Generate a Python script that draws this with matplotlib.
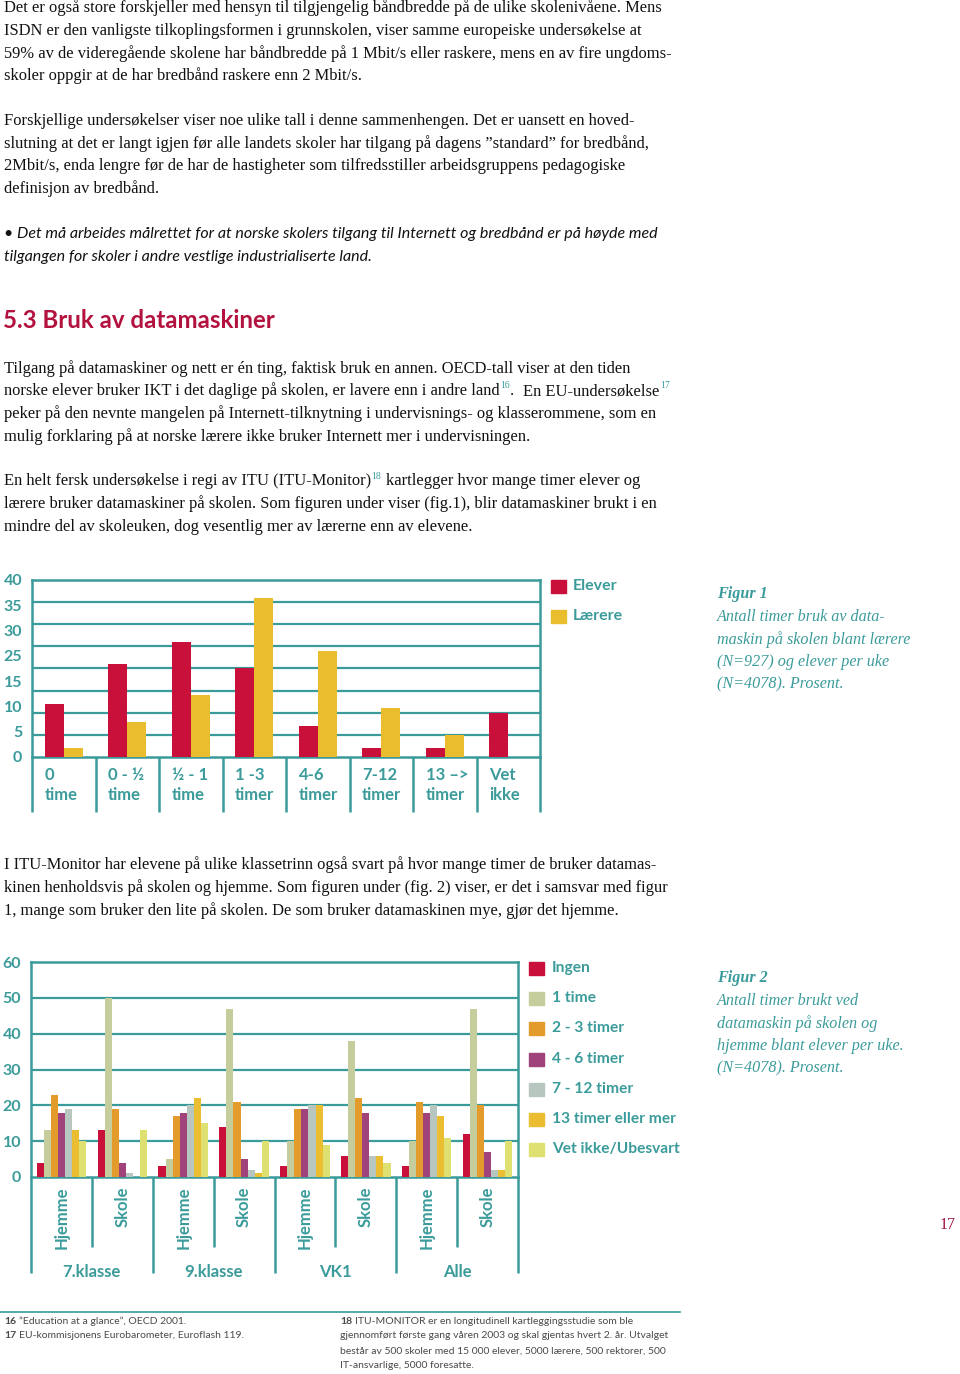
import matplotlib.pyplot as plt
from matplotlib.patches import Rectangle
from matplotlib.lines import Line2D
import numpy as np

# --- data, figur 1 ---
cats1 = [("0", "time"), ("0 - ½", "time"), ("½ - 1", "time"), ("1 -3", "timer"),
         ("4-6", "timer"), ("7-12", "timer"), ("13 –>", "timer"), ("Vet", "ikke")]
elever = [12, 21, 26, 20, 7, 2, 2, 10]
laerere = [2, 8, 14, 36, 24, 11, 5, 0]
ylab1 = ["0", "5", "10", "15", "25", "30", "35", "40"]

# --- data, figur 2 ---
groups2 = ["7.klasse", "9.klasse", "VK1", "Alle"]
places2 = ["Hjemme", "Skole"]
series2_names = ["Ingen", "1 time", "2 - 3 timer", "4 - 6 timer", "7 - 12 timer",
                 "13 timer eller mer", "Vet ikke/Ubesvart"]
ingen = [4, 13, 3, 14, 3, 6, 3, 12]
en_time = [13, 50, 5, 47, 10, 38, 10, 47]
t2_3 = [23, 19, 17, 21, 19, 22, 21, 20]
t4_6 = [18, 4, 18, 5, 19, 18, 18, 7]
t7_12 = [19, 1, 20, 2, 20, 6, 20, 2]
t13 = [13, 0, 22, 1, 20, 6, 17, 2]
vet_ikke = [10, 13, 15, 10, 9, 4, 11, 10]

W, H = 960, 1374
TEAL = "#3b9b9b"
RED = "#c8103a"
YEL = "#e9bd2e"
HEAD = "#b3123f"
colors2 = [RED, "#c5cd9c", "#e39b2b", "#a0437b", "#b7c6bf", "#ebbd30", "#dfe072"]

SERIF = "Liberation Serif"
SANS = "Lato"
BODY_FS = 11.9

fig = plt.figure(figsize=(9.6, 13.74), dpi=100)
renderer = fig.canvas.get_renderer()


def put(x, y, s, **kw):
    kw.setdefault("va", "center")
    kw.setdefault("ha", "left")
    return fig.text(x / W, 1 - y / H, s, **kw)


def body(x, y, s, **kw):
    kw.setdefault("family", SERIF)
    kw.setdefault("fontsize", BODY_FS)
    kw.setdefault("color", "#111111")
    return put(x, y, s, **kw)


def body_sup(x, y, parts):
    # parts: list of (text, is_superscript)
    cur = x
    for s, sup in parts:
        n_sp = len(s) - len(s.lstrip(" "))
        s = s.lstrip(" ")
        cur += 4 * n_sp
        if sup:
            t = put(cur, y - 5, s, family=SERIF, fontsize=7, color=TEAL)
        else:
            t = body(cur, y, s)
        cur = t.get_window_extent(renderer).x1 + 0.5


def axes_px(x0, y0, x1, y1):
    return fig.add_axes([x0 / W, 1 - y1 / H, (x1 - x0) / W, (y1 - y0) / H])


# --- body text ---
p1 = ["Det er også store forskjeller med hensyn til tilgjengelig båndbredde på de ulike skolenivåene. Mens",
      "ISDN er den vanligste tilkoplingsformen i grunnskolen, viser samme europeiske undersøkelse at",
      "59% av de videregående skolene har båndbredde på 1 Mbit/s eller raskere, mens en av fire ungdoms-",
      "skoler oppgir at de har bredbånd raskere enn 2 Mbit/s."]
p2 = ["Forskjellige undersøkelser viser noe ulike tall i denne sammenhengen. Det er uansett en hoved-",
      "slutning at det er langt igjen før alle landets skoler har tilgang på dagens ”standard” for bredbånd,",
      "2Mbit/s, enda lengre før de har de hastigheter som tilfredsstiller arbeidsgruppens pedagogiske",
      "definisjon av bredbånd."]
for i, s in enumerate(p1):
    body(4, 8 + i * 22.6, s)
for i, s in enumerate(p2):
    body(4, 121 + i * 22.6, s)

put(4, 234, "• Det må arbeides målrettet for at norske skolers tilgang til Internett og bredbånd er på høyde med",
    family=SANS, style="italic", fontsize=11.5, color="#111111")
put(4, 257, "tilgangen for skoler i andre vestlige industrialiserte land.",
    family=SANS, style="italic", fontsize=11.5, color="#111111")

put(3, 321, "5.3 Bruk av datamaskiner", family=SANS, weight="bold", fontsize=17.3, color=HEAD)

body(4, 369, "Tilgang på datamaskiner og nett er én ting, faktisk bruk en annen. OECD-tall viser at den tiden")
body_sup(4, 391, [("norske elever bruker IKT i det daglige på skolen, er lavere enn i andre land", False),
                  ("16", True), (".", False), ("  En EU-undersøkelse", False), ("17", True)])
body(4, 414, "peker på den nevnte mangelen på Internett-tilknytning i undervisnings- og klasserommene, som en")
body(4, 437, "mulig forklaring på at norske lærere ikke bruker Internett mer i undervisningen.")

body_sup(4, 481, [("En helt fersk undersøkelse i regi av ITU (ITU-Monitor)", False), ("18", True),
                  (" kartlegger hvor mange timer elever og", False)])
body(4, 504, "lærere bruker datamaskiner på skolen. Som figuren under viser (fig.1), blir datamaskiner brukt i en")
body(4, 527, "mindre del av skoleuken, dog vesentlig mer av lærerne enn av elevene.")

p3 = ["I ITU-Monitor har elevene på ulike klassetrinn også svart på hvor mange timer de bruker datamas-",
      "kinen henholdsvis på skolen og hjemme. Som figuren under (fig. 2) viser, er det i samsvar med figur",
      "1, mange som bruker den lite på skolen. De som bruker datamaskinen mye, gjør det hjemme."]
for i, s in enumerate(p3):
    body(4, 865 + i * 22.6, s)

# --- figur 1 ---
ax1 = axes_px(32, 580, 540, 757)
x1 = np.arange(len(cats1)) + 0.5
ax1.bar(x1 - 0.15, elever, 0.3, color=RED, zorder=3)
ax1.bar(x1 + 0.15, laerere, 0.3, color=YEL, zorder=3)
ax1.set_xlim(0, len(cats1))
ax1.set_ylim(0, 40)
for v in range(5, 40, 5):
    ax1.axhline(v, color=TEAL, lw=1.6, zorder=1)
for sp in ax1.spines.values():
    sp.set_color(TEAL)
    sp.set_linewidth(1.8)
ax1.set_xticks([])
ax1.set_yticks(np.linspace(0, 40, len(ylab1)), ylab1)
ax1.tick_params(axis="y", length=0, pad=7, labelcolor=TEAL, labelsize=11.5)
for lab in ax1.get_yticklabels():
    lab.set_fontfamily(SANS)
    lab.set_fontweight("bold")
ax1.vlines(np.arange(len(cats1) + 1), -12.4, 0, color=TEAL, lw=1.8, clip_on=False)
for i, (a, b) in enumerate(cats1):
    for yy, s in ((-4.1, a), (-8.7, b)):
        ax1.text(i + 0.2, yy, s, ha="left", va="center", family=SANS, weight="bold",
                 fontsize=12, color=TEAL, clip_on=False)

for yy, col, s in ((586, RED, "Elever"), (616, YEL, "Lærere")):
    fig.add_artist(Rectangle((551 / W, 1 - (yy + 7) / H), 15 / W, 13 / H,
                             transform=fig.transFigure, color=col))
    put(573, yy, s, family=SANS, weight="bold", fontsize=11.5, color=TEAL)

cap1 = ["Antall timer bruk av data-", "maskin på skolen blant lærere",
        "(N=927) og elever per uke", "(N=4078). Prosent."]
put(717, 594, "Figur 1", family=SERIF, style="italic", weight="bold", fontsize=11.6, color=TEAL)
for i, s in enumerate(cap1):
    put(717, 617 + i * 22.6, s, family=SERIF, style="italic", fontsize=11.6, color=TEAL)

# --- figur 2 ---
ax2 = axes_px(31, 962, 518, 1177)
series2 = [ingen, en_time, t2_3, t4_6, t7_12, t13, vet_ikke]
n2 = len(ingen)
x2 = np.arange(n2) + 0.5
bw = 0.116
for j, (vals, col) in enumerate(zip(series2, colors2)):
    ax2.bar(x2 + (j - 3) * bw, vals, bw, color=col, zorder=3)
ax2.set_xlim(0, n2)
ax2.set_ylim(0, 60)
for v in range(10, 60, 10):
    ax2.axhline(v, color=TEAL, lw=1.6, zorder=1)
for sp in ax2.spines.values():
    sp.set_color(TEAL)
    sp.set_linewidth(1.8)
ax2.set_xticks([])
ax2.set_yticks(range(0, 61, 10))
ax2.tick_params(axis="y", length=0, pad=7, labelcolor=TEAL, labelsize=11.5)
for lab in ax2.get_yticklabels():
    lab.set_fontfamily(SANS)
    lab.set_fontweight("bold")
ax2.vlines(np.arange(0, n2 + 1, 2), -26.8, 0, color=TEAL, lw=1.8, clip_on=False)
ax2.vlines(np.arange(1, n2, 2), -19.5, 0, color=TEAL, lw=1.8, clip_on=False)
for i in range(n2):
    ax2.text(i + 0.5, -2.6, places2[i % 2], rotation=90, ha="center", va="top", family=SANS,
             weight="bold", fontsize=12, color=TEAL, clip_on=False)
for k, g in enumerate(groups2):
    ax2.text(2 * k + 1, -26.5, g, ha="center", va="center", family=SANS, weight="bold",
             fontsize=12, color=TEAL, clip_on=False)

for j, (s, col) in enumerate(zip(series2_names, colors2)):
    yy = 968 + j * 30.2
    fig.add_artist(Rectangle((529 / W, 1 - (yy + 7) / H), 15 / W, 13 / H,
                             transform=fig.transFigure, color=col))
    put(552, yy, s, family=SANS, weight="bold", fontsize=11.2, color=TEAL)

cap2 = ["Antall timer brukt ved", "datamaskin på skolen og",
        "hjemme blant elever per uke.", "(N=4078). Prosent."]
put(717, 978, "Figur 2", family=SERIF, style="italic", weight="bold", fontsize=11.6, color=TEAL)
for i, s in enumerate(cap2):
    put(717, 1001 + i * 22.6, s, family=SERIF, style="italic", fontsize=11.6, color=TEAL)

put(940, 1225, "17", family=SERIF, fontsize=11.5, color="#a0103a")

# --- fotnoter ---
fig.add_artist(Line2D([0, 680 / W], [1 - 1312 / H] * 2, color=TEAL, lw=1.2))
fn_kw = dict(family=SANS, fontsize=7.5, color="#4a4a4a")
notes_left = [("16", "”Education at a glance”, OECD 2001."),
              ("17", "EU-kommisjonens Eurobarometer, Euroflash 119.")]
for i, (n, s) in enumerate(notes_left):
    t = put(4, 1321 + i * 15, n, weight="bold", **fn_kw)
    put(t.get_window_extent(renderer).x1 + 3, 1321 + i * 15, s, **fn_kw)
t = put(340, 1321, "18", weight="bold", **fn_kw)
put(t.get_window_extent(renderer).x1 + 3, 1321,
    "ITU-MONITOR er en longitudinell kartleggingsstudie som ble", **fn_kw)
notes_right = ["gjennomført første gang våren 2003 og skal gjentas hvert 2. år. Utvalget",
               "består av 500 skoler med 15 000 elever, 5000 lærere, 500 rektorer, 500",
               "IT-ansvarlige, 5000 foresatte."]
for i, s in enumerate(notes_right):
    put(340, 1336 + i * 15, s, **fn_kw)

fig.savefig("out.png", dpi=100)
